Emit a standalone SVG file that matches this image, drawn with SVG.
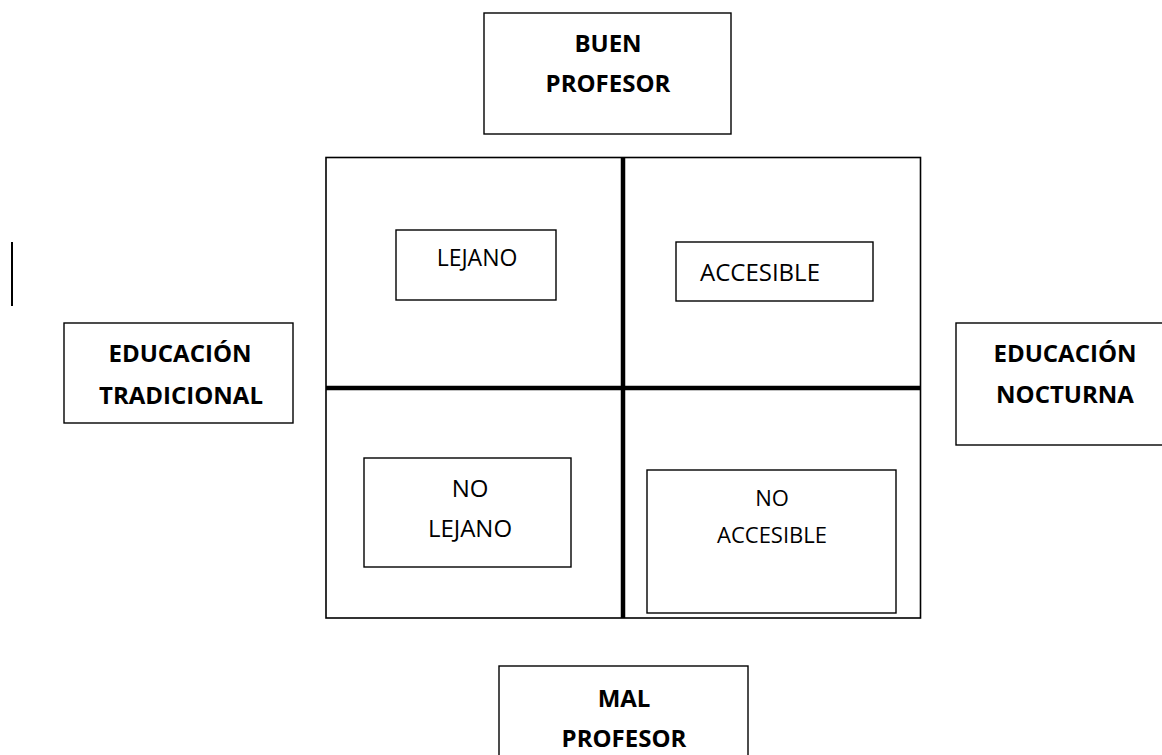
<svg xmlns="http://www.w3.org/2000/svg" width="1162" height="755" viewBox="0 0 1162 755">
<style>
.box{fill:#fff;stroke:#000;stroke-width:1.4}
.b{font-family:"Open Sans","Liberation Sans",sans-serif;font-weight:bold;font-size:24px;text-anchor:middle;fill:#000}
.r{font-family:"Open Sans","Liberation Sans",sans-serif;font-size:23px;text-anchor:middle;fill:#000}
.thick{stroke:#000;stroke-width:4.5}
</style>
<rect width="1162" height="755" fill="#fff"/>
<g id="grid">
<rect x="326" y="157.5" width="594.5" height="460.5" fill="none" stroke="#000" stroke-width="1.6"/>
<line class="thick" x1="623" y1="157" x2="623" y2="618"/>
<line class="thick" x1="326" y1="388" x2="921" y2="388"/>
</g>
<g id="cursor"><line x1="12" y1="242" x2="12" y2="306" stroke="#000" stroke-width="2"/></g>
<g id="buen-profesor">
<rect class="box" x="484" y="13" width="247" height="121"/>
<text class="b" x="608" y="52">BUEN</text>
<text class="b" x="608" y="92">PROFESOR</text>
</g>
<g id="mal-profesor">
<rect class="box" x="499" y="666" width="249" height="100"/>
<text class="b" x="624" y="707">MAL</text>
<text class="b" x="624" y="747">PROFESOR</text>
</g>
<g id="educacion-tradicional">
<rect class="box" x="64" y="323" width="229" height="100"/>
<text class="b" x="180" y="362">EDUCACIÓN</text>
<text class="b" x="181" y="404">TRADICIONAL</text>
</g>
<g id="educacion-nocturna">
<rect class="box" x="956" y="323" width="220" height="122"/>
<text class="b" x="1065" y="362">EDUCACIÓN</text>
<text class="b" x="1065" y="403">NOCTURNA</text>
</g>
<g id="lejano">
<rect class="box" x="396" y="230" width="160" height="70"/>
<text class="r" x="477" y="266">LEJANO</text>
</g>
<g id="accesible">
<rect class="box" x="676" y="242" width="197" height="59"/>
<text class="r" x="760" y="281" style="font-size:24px">ACCESIBLE</text>
</g>
<g id="no-lejano">
<rect class="box" x="364" y="458" width="207" height="109"/>
<text class="r" x="470" y="497" style="font-size:24px">NO</text>
<text class="r" x="470" y="537" style="font-size:24px">LEJANO</text>
</g>
<g id="no-accesible">
<rect class="box" x="647" y="470" width="249" height="143"/>
<text class="r" x="772" y="506" style="font-size:22px">NO</text>
<text class="r" x="772" y="543" style="font-size:22px">ACCESIBLE</text>
</g>
</svg>
